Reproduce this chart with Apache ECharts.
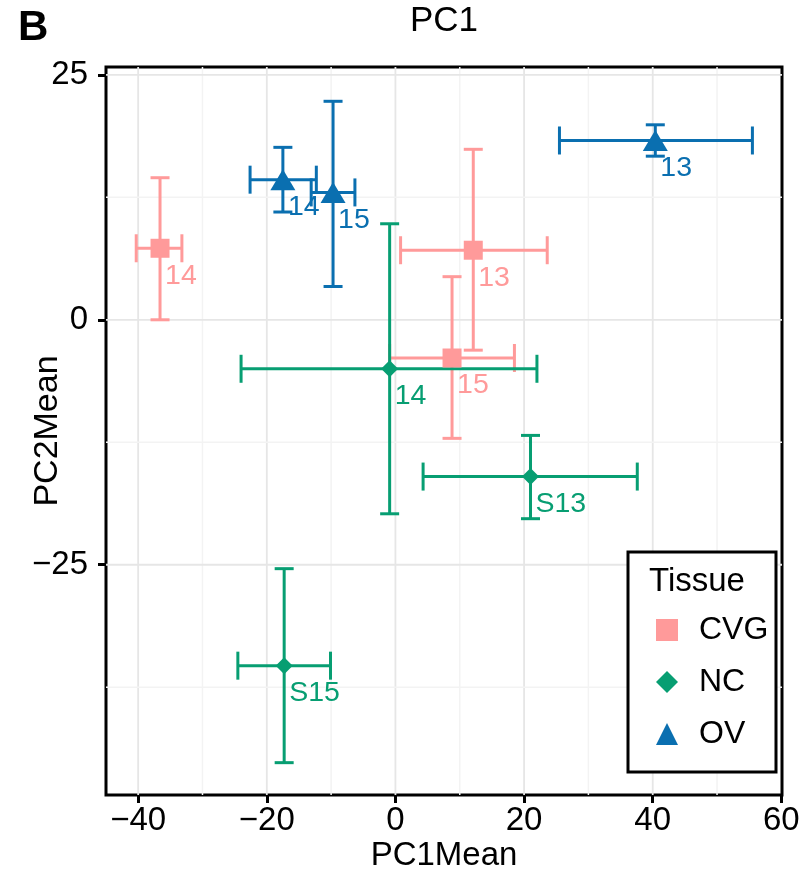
<!DOCTYPE html>
<html>
<head>
<meta charset="utf-8">
<script src="https://cdn.jsdelivr.net/npm/echarts@6/dist/echarts.min.js"></script>
<style>
  html, body { margin: 0; padding: 0; background: #fff; }
  #chart { width: 804px; height: 875px; }
</style>
</head>
<body>
<div id="chart"></div>
<script>
// ========== 数据 ==========
const tissues = ["CVG", "NC", "OV"];
const tissueColors = ["#FF9A9A", "#079E72", "#0A6FB0"];
const tissueSymbols = ["rect", "diamond", "triangle"];

const cvgLabels = ["14", "13", "15"];
const cvgX = [-36.6, 12.1, 8.8];
const cvgY = [7.3, 7.1, -3.9];
const cvgXmin = [-40.3, 0.8, -0.9];
const cvgXmax = [-33.2, 23.6, 18.5];
const cvgYmin = [0.0, -3.1, -12.1];
const cvgYmax = [14.5, 17.4, 4.4];

const ncLabels = ["14", "S13", "S15"];
const ncX = [-0.9, 21.0, -17.3];
const ncY = [-5.0, -16.0, -35.3];
const ncXmin = [-24.0, 4.3, -24.5];
const ncXmax = [22.0, 37.6, -10.1];
const ncYmin = [-19.8, -20.3, -45.2];
const ncYmax = [9.8, -11.8, -25.4];

const ovLabels = ["14", "15", "13"];
const ovX = [-17.5, -9.7, 40.4];
const ovY = [14.3, 13.0, 18.3];
const ovXmin = [-22.6, -13.1, 25.5];
const ovXmax = [-12.3, -6.3, 55.5];
const ovYmin = [11.0, 3.4, 16.7];
const ovYmax = [17.6, 22.3, 19.9];

const xMajorTicks = [-40, -20, 0, 20, 40, 60];
const xMinorTicks = [-30, -10, 10, 30, 50];
const yMajorTicks = [-25, 0, 25];
const yMinorTicks = [-37.5, -12.5, 12.5];

const xMin = -45, xMax = 60.1;
const yMin = -48.5, yMax = 25.8;

const groups = [
  { labels: cvgLabels, x: cvgX, y: cvgY, xmin: cvgXmin, xmax: cvgXmax, ymin: cvgYmin, ymax: cvgYmax },
  { labels: ncLabels, x: ncX, y: ncY, xmin: ncXmin, xmax: ncXmax, ymin: ncYmin, ymax: ncYmax },
  { labels: ovLabels, x: ovX, y: ovY, xmin: ovXmin, xmax: ovXmax, ymin: ovYmin, ymax: ovYmax },
];

const FONT = "Liberation Sans, Arial, Helvetica, sans-serif";

// ========== 网格线 ==========
const gridData = [];
xMajorTicks.forEach((v) => gridData.push([0, v, 1]));
xMinorTicks.forEach((v) => gridData.push([0, v, 0]));
yMajorTicks.forEach((v) => gridData.push([1, v, 1]));
yMinorTicks.forEach((v) => gridData.push([1, v, 0]));

function renderGridLine(params, api) {
  const dir = api.value(0);
  const v = api.value(1);
  const major = api.value(2) === 1;
  if (dir === 0 && (v <= xMin + 0.5 || v >= xMax - 0.5)) return null;
  if (dir === 1 && (v <= yMin + 0.5 || v >= yMax - 0.5)) return null;
  const a = dir === 0 ? api.coord([v, yMin]) : api.coord([xMin, v]);
  const b = dir === 0 ? api.coord([v, yMax]) : api.coord([xMax, v]);
  return {
    type: "line",
    shape: { x1: a[0], y1: a[1], x2: b[0], y2: b[1] },
    style: { stroke: major ? "#e6e6e6" : "#f3f3f3", lineWidth: major ? 1.8 : 1.5 },
  };
}

// ========== 误差棒 ==========
function renderErrorBars(params, api) {
  const x = api.value(0), y = api.value(1);
  const pyLo = api.coord([x, api.value(4)]);
  const pyHi = api.coord([x, api.value(5)]);
  const pxLo = api.coord([api.value(2), y]);
  const pxHi = api.coord([api.value(3), y]);
  const style = { stroke: api.visual("color"), lineWidth: 3 };
  const capW = 9.5; // 竖向误差棒端帽半宽
  const capH = 14;  // 横向误差棒端帽半高
  const seg = (x1, y1, x2, y2) => ({ type: "line", shape: { x1, y1, x2, y2 }, style });
  return {
    type: "group",
    children: [
      seg(pyLo[0], pyLo[1], pyHi[0], pyHi[1]),
      seg(pyLo[0] - capW, pyLo[1], pyLo[0] + capW, pyLo[1]),
      seg(pyHi[0] - capW, pyHi[1], pyHi[0] + capW, pyHi[1]),
      seg(pxLo[0], pxLo[1], pxHi[0], pxHi[1]),
      seg(pxLo[0], pxLo[1] - capH, pxLo[0], pxLo[1] + capH),
      seg(pxHi[0], pxHi[1] - capH, pxHi[0], pxHi[1] + capH),
    ],
  };
}

const series = [
  {
    type: "custom",
    renderItem: renderGridLine,
    data: gridData,
    silent: true,
    z: 1,
  },
];

groups.forEach((g, i) => {
  series.push({
    name: tissues[i] + "_err",
    type: "custom",
    renderItem: renderErrorBars,
    itemStyle: { color: tissueColors[i] },
    data: g.x.map((x, k) => [x, g.y[k], g.xmin[k], g.xmax[k], g.ymin[k], g.ymax[k]]),
    z: 2,
  });
});

const symbolSizes = [19, 17, [25, 21]];
groups.forEach((g, i) => {
  series.push({
    name: tissues[i],
    type: "scatter",
    symbol: tissueSymbols[i],
    symbolSize: symbolSizes[i],
    itemStyle: { color: tissueColors[i], opacity: 1 },
    data: g.x.map((x, k) => ({ value: [x, g.y[k]], name: g.labels[k] })),
    label: {
      show: true,
      position: "inside",
      align: "left",
      verticalAlign: "top",
      offset: [5, 13],
      formatter: "{b}",
      color: tissueColors[i],
      fontSize: 28.5,
      fontFamily: FONT,
      textBorderWidth: 0,
    },
    z: 3,
  });
});

// ========== 图表 ==========
const chart = echarts.init(document.getElementById("chart"));

chart.setOption({
  animation: false,
  grid: {
    left: 106,
    right: 22,
    top: 67,
    bottom: 80,
    containLabel: false,
    outerBoundsMode: "none",
    show: true,
    borderColor: "#000",
    borderWidth: 3,
    backgroundColor: "#fff",
  },
  xAxis: {
    type: "value",
    min: xMin,
    max: xMax,
    name: "PC1Mean",
    nameLocation: "middle",
    nameGap: 44,
    nameMoveOverlap: false,
    nameTextStyle: { fontSize: 33, color: "#000", fontFamily: FONT },
    axisLine: { show: false, onZero: false },
    splitLine: { show: false },
    axisTick: { show: true, length: 8, customValues: xMajorTicks, lineStyle: { color: "#000", width: 3 } },
    axisLabel: {
      customValues: xMajorTicks,
      fontSize: 33,
      color: "#000",
      fontFamily: FONT,
      margin: 9,
      formatter: (v) => String(v).replace("-", "\u2212"),
    },
  },
  yAxis: {
    type: "value",
    min: yMin,
    max: yMax,
    name: "PC2Mean",
    nameLocation: "middle",
    nameGap: 41,
    nameRotate: 90,
    nameMoveOverlap: false,
    nameTextStyle: { fontSize: 34, color: "#000", fontFamily: FONT },
    axisLine: { show: false, onZero: false },
    splitLine: { show: false },
    axisTick: { show: true, length: 8, customValues: yMajorTicks, lineStyle: { color: "#000", width: 3 } },
    axisLabel: {
      customValues: yMajorTicks,
      fontSize: 33,
      color: "#000",
      fontFamily: FONT,
      margin: 18,
      formatter: (v) => String(v).replace("-", "\u2212"),
    },
  },
  legend: {
    data: tissues,
    orient: "vertical",
    left: 656,
    top: 614,
    padding: 0,
    itemWidth: 22,
    itemHeight: 22,
    itemGap: 20,
    selectedMode: false,
    textStyle: {
      fontSize: 32,
      color: "#000",
      fontFamily: FONT,
      lineHeight: 22,
      padding: [0, 0, 0, 16],
    },
    z: 10,
  },
  graphic: [
    {
      type: "text",
      left: 18,
      top: 7,
      style: { text: "B", fontSize: 42, fontWeight: "bold", fill: "#000", fontFamily: FONT },
    },
    {
      type: "text",
      x: 444,
      y: 4,
      style: { text: "PC1", fontSize: 35, fill: "#000", fontFamily: FONT, textAlign: "center", textVerticalAlign: "top" },
    },
    {
      type: "rect",
      shape: { x: 628, y: 552, width: 148, height: 220 },
      style: { fill: "#fff", stroke: "#000", lineWidth: 3 },
      z: 5,
    },
    {
      type: "text",
      x: 649,
      y: 565,
      style: { text: "Tissue", fontSize: 33, fill: "#000", fontFamily: FONT, textVerticalAlign: "top" },
      z: 6,
    },
  ],
  series,
});
</script>
</body>
</html>
